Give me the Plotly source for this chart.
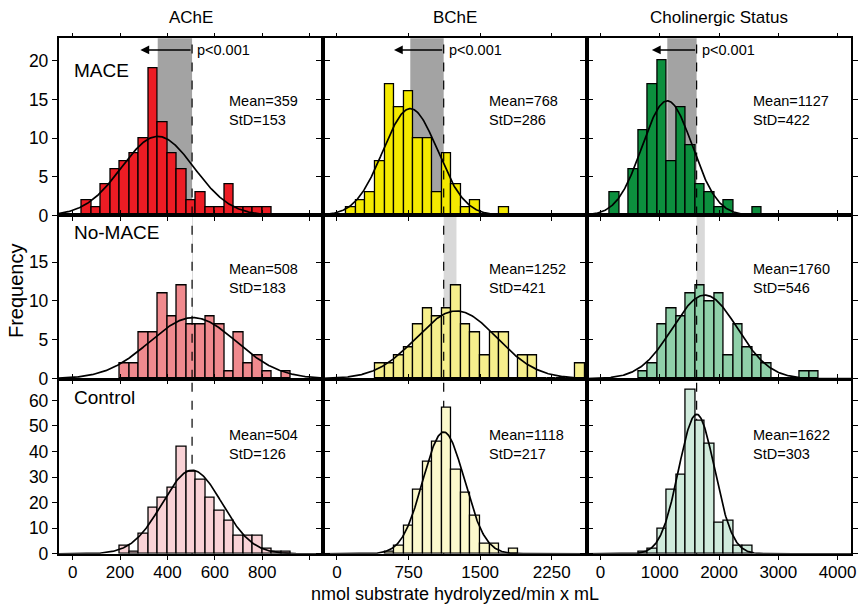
import numpy as np
import plotly.graph_objects as go

# ---------------- data ----------------
columns = ["AChE", "BChE", "Cholinergic Status"]
groups = ["MACE", "No-MACE", "Control"]
bin_widths = [40, 100, 160]

# first bin left edge for each panel [row][col]
bin_starts = [
    [40, 100, 160],
    [200, 400, 640],
    [200, 500, 640],
]

counts_mace_ache = [2, 1, 4, 6, 7, 8, 10, 19, 12, 8, 6, 2, 3, 1, 1, 4, 1, 1, 1, 1]
counts_mace_bche = [1, 2, 3, 7, 17, 14, 16, 10, 10, 3, 8, 4, 1, 2, 0, 0, 1]
counts_mace_chol = [3, 0, 6, 11, 17, 20, 7, 14, 9, 4, 3, 1, 2, 0, 0, 1]

counts_nomace_ache = [2, 2, 6, 6, 11, 8, 12, 7, 7, 8, 7, 1, 6, 2, 3, 1, 0, 1]
counts_nomace_bche = [2, 2, 3, 4, 7, 9, 8, 9, 12, 7, 6, 3, 6, 6, 0, 3, 3, 0, 0, 0, 0, 2]
counts_nomace_chol = [1, 2, 7, 9, 8, 11, 12, 10, 11, 3, 7, 4, 3, 2, 0, 0, 0, 1, 1]

counts_control_ache = [3, 1, 8, 18, 22, 26, 42, 32, 29, 22, 17, 13, 7, 7, 7, 2, 1, 1]
counts_control_bche = [1, 3, 11, 25, 36, 44, 57, 33, 24, 15, 4, 4, 0, 2]
counts_control_chol = [1, 2, 10, 25, 31, 64, 52, 43, 12, 13, 3, 3]

means = [[359, 768, 1127], [508, 1252, 1760], [504, 1118, 1622]]
stds = [[153, 286, 422], [183, 421, 546], [126, 217, 303]]

counts = [
    [counts_mace_ache, counts_mace_bche, counts_mace_chol],
    [counts_nomace_ache, counts_nomace_bche, counts_nomace_chol],
    [counts_control_ache, counts_control_bche, counts_control_chol],
]

x_tickvals = [[0, 200, 400, 600, 800, 1000], [0, 750, 1500, 2250], [0, 1000, 2000, 3000, 4000]]
x_ticktext = [["0", "200", "400", "600", "800", ""], ["0", "750", "1500", "2250"],
              ["0", "1000", "2000", "3000", "4000"]]
y_tickvals = [[0, 5, 10, 15, 20], [0, 5, 10, 15], [0, 10, 20, 30, 40, 50, 60]]

# ---------------- style ----------------
colors = [
    ["#ed1c24", "#f4e900", "#0c8f3e"],
    ["#f08a8e", "#f6ef8c", "#8fd0a9"],
    ["#f9d2d6", "#fcf9cc", "#d0ebdc"],
]
x_ranges = [[-59, 1057], [-145, 2615], [-235, 4228]]
y_ranges = [[0, 22.9], [0, 21.0], [0, 68.1]]
W, H = 866, 611
x_px = [(59, 325), (325, 590), (590, 856)]
y_px = [(39, 219), (219, 385), (386, 563)]
x_dom = [[a / W, b / W] for a, b in x_px]
y_dom = [[1 - b / H, 1 - a / H] for a, b in y_px]
FONT = "Liberation Sans, Arial, Helvetica, sans-serif"


def px_x(p):
    return p / W


def px_y(p):
    return 1 - p / H


fig = go.Figure()
layout = dict(
    width=W, height=H, margin=dict(l=0, r=0, t=0, b=0, pad=0),
    paper_bgcolor="white", plot_bgcolor="white", showlegend=False,
    font=dict(family=FONT, color="black", size=14),
)
shapes = []
annotations = []

for r in range(3):
    for c in range(3):
        k = r * 3 + c + 1
        xa = "x" if k == 1 else f"x{k}"
        ya = "y" if k == 1 else f"y{k}"
        xkey = "xaxis" if k == 1 else f"xaxis{k}"
        ykey = "yaxis" if k == 1 else f"yaxis{k}"
        bw = bin_widths[c]
        cnt = counts[r][c]
        centers = [bin_starts[r][c] + bw * (i + 0.5) for i in range(len(cnt))]
        fig.add_trace(go.Bar(
            x=centers, y=cnt, width=bw, xaxis=xa, yaxis=ya,
            marker=dict(color=colors[r][c], line=dict(color="black", width=1.3)),
            hoverinfo="skip",
        ))
        n = sum(cnt)
        m, s = means[r][c], stds[r][c]
        xs = np.linspace(x_ranges[c][0], x_ranges[c][1], 400)
        ys = n * bw * np.exp(-0.5 * ((xs - m) / s) ** 2) / (s * np.sqrt(2 * np.pi))
        fig.add_trace(go.Scatter(x=xs, y=ys, mode="lines", xaxis=xa, yaxis=ya,
                                 line=dict(color="black", width=1.7), hoverinfo="skip"))

        layout[xkey] = dict(
            domain=x_dom[c], anchor=ya, range=x_ranges[c],
            tickmode="array", tickvals=x_tickvals[c],
            ticktext=x_ticktext[c] if r == 2 else [""] * len(x_tickvals[c]),
            showticklabels=(r == 2),
            ticks="outside", ticklen=4, tickwidth=1.2, tickcolor="black",
            showline=True, linecolor="black", linewidth=1.6, mirror="ticks",
            showgrid=False, zeroline=False, ticklabelstandoff=-2,
            tickfont=dict(size=17, family=FONT),
        )
        layout[ykey] = dict(
            domain=y_dom[r], anchor=xa, range=y_ranges[r],
            tickmode="array", tickvals=y_tickvals[r],
            showticklabels=(c == 0),
            ticks="outside", ticklen=5, tickwidth=1.2, tickcolor="black",
            showline=True, linecolor="black", linewidth=1.6, mirror="ticks",
            showgrid=False, zeroline=False,
            tickfont=dict(size=17.5, family=FONT),
        )

        ctrl = means[2][c]
        # shaded bands
        if r == 0:
            shapes.append(dict(type="rect", xref=xa, yref=f"{ya} domain",
                               x0=means[0][c], x1=ctrl, y0=0, y1=1,
                               fillcolor="#a3a3a3", line=dict(width=0), layer="below"))
        if r == 1:
            shapes.append(dict(type="rect", xref=xa, yref=f"{ya} domain",
                               x0=ctrl, x1=means[1][c], y0=0, y1=1,
                               fillcolor="#d9d9d9", line=dict(width=0), layer="below"))
        # dashed control-mean line
        shapes.append(dict(type="line", xref=xa, yref=f"{ya} domain",
                           x0=ctrl, x1=ctrl, y0=0, y1=1,
                           line=dict(color="black", width=1.2, dash="dash"),
                           layer="above" if r < 2 else "below"))

        # Mean / StD text
        ytxt = [0.592, 0.614, 0.627][r]
        xtxt = [0.635, 0.623, 0.62][c]
        annotations.append(dict(
            xref=f"{xa} domain", yref=f"{ya} domain", x=xtxt, y=ytxt,
            xanchor="left", yanchor="middle", align="left", showarrow=False,
            text=f"Mean={m}<br>StD={s}", font=dict(size=14.5, family=FONT)))

        if r == 0:
            # arrow and p-value
            px_per_unit = (x_px[c][1] - x_px[c][0]) / (x_ranges[c][1] - x_ranges[c][0])
            arrow_len = [52, 50, 45][c]
            yarr = 21.4
            annotations.append(dict(
                xref=xa, yref=ya, x=ctrl - arrow_len / px_per_unit, y=yarr,
                axref=xa, ayref=ya, ax=ctrl, ay=yarr, text="", showarrow=True,
                arrowhead=2, arrowsize=1.1, arrowwidth=1.6, arrowcolor="black"))
            annotations.append(dict(
                xref=xa, yref=ya, x=ctrl, y=yarr, xanchor="left", yanchor="middle",
                xshift=3, showarrow=False, text="p<0.001", font=dict(size=14.5, family=FONT)))

    # group label
    k = r * 3 + 1
    xa = "x" if k == 1 else f"x{k}"
    ya = "y" if k == 1 else f"y{k}"
    annotations.append(dict(
        xref=f"{xa} domain", yref=f"{ya} domain", x=0.052,
        y=[0.817, 0.898, 0.898][r], xanchor="left", yanchor="middle",
        showarrow=False, text=groups[r], font=dict(size=19, family=FONT)))

# column titles
for c in range(3):
    annotations.append(dict(
        xref="paper", yref="paper", x=(x_dom[c][0] + x_dom[c][1]) / 2, y=px_y(18),
        xanchor="center", yanchor="middle", showarrow=False, text=columns[c],
        font=dict(size=17, family=FONT)))

annotations.append(dict(
    xref="paper", yref="paper", x=px_x(458), y=0, xanchor="center",
    yanchor="bottom", yshift=-4, borderpad=0, showarrow=False,
    text="nmol substrate hydrolyzed/min x mL",
    font=dict(size=18, family=FONT)))
annotations.append(dict(
    xref="paper", yref="paper", x=px_x(16), y=px_y(295), xanchor="center",
    yanchor="middle", showarrow=False, text="Frequency", textangle=-90,
    font=dict(size=20, family=FONT)))

layout["shapes"] = shapes
layout["annotations"] = annotations
layout["bargap"] = 0
fig.update_layout(**layout)
fig.write_html(
    "out.html",
    config={"displayModeBar": False},
    post_script="document.body.style.margin='0';document.body.style.overflow='hidden';",
)
